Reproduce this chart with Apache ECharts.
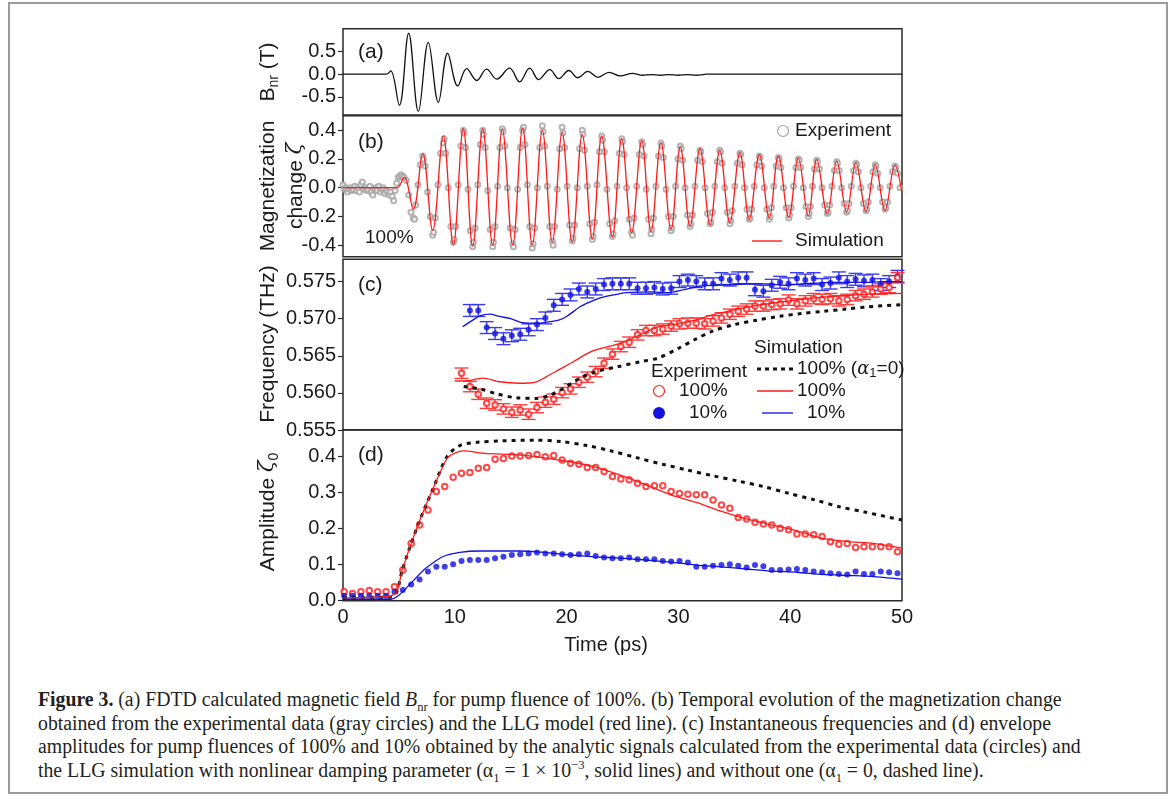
<!DOCTYPE html>
<html><head><meta charset="utf-8">
<script src="https://cdn.jsdelivr.net/npm/echarts@6/dist/echarts.min.js"></script>
<style>
html,body{margin:0;padding:0;background:#fff;}
#frame{position:absolute;left:8px;top:2px;width:1156px;height:788px;border:2px solid #9a9a9a;}
#chart{position:absolute;left:0;top:0;width:1171px;height:660px;}
#cap{position:absolute;left:38px;top:688px;font-family:"Liberation Serif",serif;font-size:20.5px;color:#231f20;}
#cap div{white-space:nowrap;height:23.5px;line-height:23.5px;}
#cap span.ln{display:inline-block;transform-origin:0 50%;}
sub,sup{font-size:13px;line-height:0;}
</style></head>
<body>
<div id="frame"></div>
<div id="chart"></div>
<div id="cap">
<div><span class="ln" data-end="1106"><b>Figure 3.</b> (a) FDTD calculated magnetic field <i>B</i><sub>nr</sub> for pump fluence of 100%. (b) Temporal evolution of the magnetization change</span></div>
<div><span class="ln" data-end="1046">obtained from the experimental data (gray circles) and the LLG model (red line). (c) Instantaneous frequencies and (d) envelope</span></div>
<div><span class="ln" data-end="1124">amplitudes for pump fluences of 100% and 10% obtained by the analytic signals calculated from the experimental data (circles) and</span></div>
<div><span class="ln" data-end="908">the LLG simulation with nonlinear damping parameter (α<sub>1</sub> = 1 × 10<sup>−3</sup>, solid lines) and without one (α<sub>1</sub> = 0, dashed line).</span></div>
</div>
<script>
// ---------- (a) B_nr waveform ----------
const bnrTime = [0, 3.9, 4.27, 5.04, 5.87, 6.74, 7.63, 8.53, 9.36, 10.26, 11.06, 11.96, 12.85, 13.75, 14.9, 15.8, 16.7, 17.5, 18.5, 19.3, 20.2, 21.0, 21.9, 22.8, 23.8, 24.8, 25.9, 26.8, 27.6, 28.4, 29.2, 30.0, 30.8, 31.6, 32.2, 32.5, 50];
const bnrValue = [0, 0, 0.07, -0.69, 0.90, -0.82, 0.70, -0.62, 0.46, -0.26, 0.12, -0.14, 0.11, -0.11, 0.13, -0.17, 0.13, -0.12, 0.10, -0.10, 0.08, -0.08, 0.06, -0.07, 0.04, -0.04, 0.015, -0.025, -0.01, -0.025, -0.01, -0.025, -0.01, -0.025, -0.01, 0, 0];

// ---------- (b) magnetization change ----------
const magSimTime = [0, 4.8, 5.46, 6.29, 7.13, 8.02, 8.97, 9.87, 10.76, 11.6, 12.5, 13.39, 14.25, 15.18, 16.07, 16.93, 17.83, 18.72, 19.6, 20.5, 21.4, 22.3, 23.14, 24.09, 24.93, 25.82, 26.72, 27.55, 28.44, 29.34, 30.17, 31.04, 31.93, 32.83, 33.7, 34.6, 35.5, 36.34, 37.24, 38.13, 38.94, 39.87, 40.73, 41.62, 42.37, 43.32, 44.16, 45.05, 45.88, 46.78, 47.61, 48.48, 49.37, 50];
const magSimValue = [0, 0, 0.074, -0.15, 0.237, -0.297, 0.36, -0.397, 0.41, -0.406, 0.41, -0.40, 0.406, -0.397, 0.415, -0.397, 0.399, -0.378, 0.383, -0.378, 0.369, -0.355, 0.36, -0.343, 0.341, -0.313, 0.329, -0.304, 0.313, -0.29, 0.283, -0.267, 0.271, -0.257, 0.26, -0.243, 0.243, -0.22, 0.23, -0.21, 0.22, -0.204, 0.206, -0.197, 0.195, -0.181, 0.183, -0.169, 0.174, -0.165, 0.16, -0.158, 0.155, -0.04];
const magExp = [
[0.0,0.02],[0.13,-0.01],[0.26,0.0],[0.4,-0.03],[0.53,-0.01],[0.66,0.0],[0.8,-0.02],[0.93,-0.01],[1.06,0.01],[1.2,-0.02],[1.33,0.0],[1.46,-0.03],[1.6,0.02],[1.73,0.04],[1.86,-0.01],[2.0,0.0],[2.13,-0.02],[2.26,-0.01],[2.4,0.01],[2.53,-0.03],[2.66,-0.05],[2.8,-0.01],[2.93,0.0],[3.06,-0.02],[3.2,0.01],[3.33,-0.03],[3.46,-0.01],[3.6,0.0],[3.73,-0.04],[3.86,-0.02],[4.0,-0.03],[4.13,-0.05],[4.26,-0.03],[4.4,-0.06],[4.53,-0.09],
[4.66,-0.02],[4.8,0.03],[4.93,0.07],[5.06,0.08],[5.2,0.09],[5.33,0.08],[5.46,0.07],[5.67,0.05],[5.88,-0.05],[6.08,-0.17],
[6.29,-0.21],[6.4,-0.22],[6.5,-0.12],[6.71,0.02],[6.92,0.16],[7.13,0.22],[7.2,0.2],[7.35,0.15],[7.57,-0.03],[7.8,-0.2],
[8.02,-0.33],[8.1,-0.31],[8.26,-0.21],[8.5,0.02],[8.73,0.24],[8.97,0.31],[9.05,0.34],[9.2,0.24],[9.42,0.0],[9.65,-0.27],
[9.87,-0.38],[9.95,-0.36],[10.09,-0.27],[10.31,0.02],[10.54,0.29],[10.76,0.40],[10.83,0.38],[10.97,0.28],[11.18,-0.01],[11.39,-0.3],
[11.6,-0.41],[11.66,-0.38],[11.82,-0.28],[12.05,0.02],[12.28,0.3],[12.5,0.40],[12.56,0.37],[12.72,0.28],[12.95,-0.02],[13.17,-0.29],
[13.39,-0.41],[13.45,-0.38],[13.6,-0.27],[13.82,0.01],[14.03,0.28],[14.25,0.41],[14.32,0.39],[14.48,0.29],[14.71,0.0],[14.95,-0.28],
[15.18,-0.39],[15.25,-0.41],[15.4,-0.29],[15.62,-0.01],[15.85,0.28],[16.07,0.40],[16.14,0.42],[16.28,0.3],[16.5,0.02],[16.71,-0.27],
[16.93,-0.42],[17.0,-0.39],[17.15,-0.28],[17.38,0.0],[17.6,0.28],[17.83,0.43],[17.9,0.39],[18.05,0.29],[18.27,0.01],[18.5,-0.27],
[18.72,-0.37],[18.8,-0.4],[18.94,-0.27],[19.16,-0.01],[19.38,0.27],[19.6,0.42],[19.67,0.38],[19.82,0.28],[20.05,0.01],[20.27,-0.26],
[20.5,-0.37],[20.57,-0.35],[20.72,-0.26],[20.95,0.0],[21.17,0.27],[21.4,0.40],[21.47,0.37],[21.62,0.26],[21.85,0.01],[22.07,-0.25],
[22.3,-0.36],[22.37,-0.34],[22.51,-0.24],[22.72,0.02],[22.93,0.25],[23.14,0.36],[23.21,0.33],[23.38,0.25],[23.61,-0.01],[23.85,-0.25],
[24.09,-0.34],[24.16,-0.32],[24.3,-0.23],[24.51,0.01],[24.72,0.24],[24.93,0.34],[25.0,0.32],[25.15,0.23],[25.37,0.0],[25.6,-0.22],
[25.82,-0.31],[25.89,-0.33],[26.04,-0.21],[26.27,0.01],[26.5,0.23],[26.72,0.32],[26.79,0.3],[26.93,0.22],[27.13,-0.01],[27.34,-0.22],
[27.55,-0.32],[27.62,-0.29],[27.77,-0.21],[27.99,0.01],[28.22,0.22],[28.44,0.31],[28.51,0.29],[28.66,0.21],[28.89,-0.01],[29.11,-0.2],
[29.34,-0.3],[29.41,-0.28],[29.55,-0.2],[29.75,0.01],[29.96,0.2],[30.17,0.29],[30.24,0.27],[30.39,0.19],[30.6,0.0],[30.82,-0.19],
[31.04,-0.27],[31.11,-0.25],[31.26,-0.19],[31.48,0.01],[31.71,0.19],[31.93,0.26],[32.0,0.25],[32.15,0.18],[32.38,0.0],[32.6,-0.18],
[32.83,-0.25],[32.9,-0.24],[33.05,-0.17],[33.26,0.01],[33.48,0.18],[33.7,0.26],[33.77,0.25],[33.92,0.17],[34.15,0.0],[34.37,-0.17],
[34.6,-0.25],[34.67,-0.23],[34.82,-0.16],[35.05,0.01],[35.27,0.17],[35.5,0.24],[35.57,0.23],[35.71,0.16],[35.92,0.0],[36.13,-0.15],
[36.34,-0.22],[36.41,-0.21],[36.56,-0.15],[36.79,0.01],[37.01,0.16],[37.24,0.22],[37.31,0.21],[37.46,0.15],[37.68,0.0],[37.91,-0.15],
[38.13,-0.22],[38.2,-0.2],[38.33,-0.14],[38.53,0.01],[38.74,0.15],[38.94,0.21],[39.01,0.2],[39.17,0.14],[39.4,0.0],[39.64,-0.14],
[39.87,-0.21],[39.94,-0.19],[40.08,-0.14],[40.3,0.01],[40.51,0.14],[40.73,0.2],[40.8,0.19],[40.95,0.14],[41.17,0.0],[41.4,-0.13],
[41.62,-0.2],[41.69,-0.18],[41.81,-0.13],[42.0,0.01],[42.18,0.13],[42.37,0.19],[42.44,0.18],[42.61,0.13],[42.85,0.0],[43.08,-0.12],
[43.32,-0.18],[43.39,-0.17],[43.53,-0.12],[43.74,0.01],[43.95,0.12],[44.16,0.18],[44.23,0.17],[44.38,0.12],[44.6,0.0],[44.83,-0.11],
[45.05,-0.17],[45.12,-0.16],[45.26,-0.11],[45.47,0.01],[45.67,0.12],[45.88,0.17],[45.95,0.16],[46.1,0.11],[46.33,0.0],[46.55,-0.11],
[46.78,-0.16],[46.85,-0.15],[46.99,-0.1],[47.2,0.01],[47.4,0.11],[47.61,0.16],[47.68,0.15],[47.83,0.1],[48.05,0.0],[48.26,-0.1],
[48.48,-0.15],[48.55,-0.14],[48.7,-0.1],[48.92,0.01],[49.15,0.11],[49.37,0.15],[49.44,0.14],[49.6,0.1],[49.82,0.0]
];

// ---------- shared experimental time grid (c, d) ----------
const expTime = [0.1, 0.85, 1.6, 2.35, 3.1, 3.85, 4.6, 5.35, 6.1, 6.85, 7.6, 8.35, 9.1, 9.85, 10.6, 11.35, 12.1, 12.85, 13.6, 14.35, 15.1, 15.85, 16.6, 17.35, 18.1, 18.85, 19.6, 20.35, 21.1, 21.85, 22.6, 23.35, 24.1, 24.85, 25.6, 26.35, 27.1, 27.85, 28.6, 29.35, 30.1, 30.85, 31.6, 32.35, 33.1, 33.85, 34.6, 35.35, 36.1, 36.85, 37.6, 38.35, 39.1, 39.85, 40.6, 41.35, 42.1, 42.85, 43.6, 44.35, 45.1, 45.85, 46.6, 47.35, 48.1, 48.85, 49.6];

// ---------- (c) frequency ----------
const freq100Exp = [0.56265, 0.56085, 0.55982, 0.55861, 0.55838, 0.55784, 0.5574, 0.5577, 0.55713, 0.55802, 0.55875, 0.55915, 0.56004, 0.56054, 0.56144, 0.56212, 0.56287, 0.564, 0.56522, 0.56624, 0.56683, 0.56782, 0.5684, 0.5684, 0.5686, 0.5690, 0.5693, 0.5694, 0.5694, 0.5693, 0.5697, 0.5701, 0.5706, 0.5710, 0.5713, 0.5717, 0.5717, 0.5719, 0.5720, 0.5725, 0.5720, 0.5724, 0.5727, 0.5726, 0.5727, 0.5724, 0.5726, 0.5731, 0.5733, 0.5736, 0.5740, 0.5742, 0.5755];
const freq10Exp = [0.5711, 0.5711, 0.5688, 0.5680, 0.5673, 0.5677, 0.5679, 0.5685, 0.5692, 0.5701, 0.5718, 0.5726, 0.5732, 0.5740, 0.5736, 0.5740, 0.5746, 0.5747, 0.5747, 0.5747, 0.5741, 0.5741, 0.5742, 0.5740, 0.5741, 0.5750, 0.5752, 0.5750, 0.5747, 0.5747, 0.5754, 0.5752, 0.5755, 0.5755, 0.5739, 0.5737, 0.5745, 0.5749, 0.5747, 0.5754, 0.5752, 0.5754, 0.5746, 0.5748, 0.5755, 0.5750, 0.5753, 0.5751, 0.5752, 0.5746, 0.5750, 0.5757];
const freq100Err = 0.0007;
const freq10Err = 0.0008;
const freqSim10Time = [10.7, 11.5, 12.3, 13.15, 14.0, 15.0, 15.9, 16.7, 17.6, 18.5, 19.3, 20.0, 21.2, 22.0, 23.0, 24.2, 25.4, 27.7, 29.0, 30.5, 32.0, 33.5, 35.0, 36.5, 38.0, 39.5, 41.0, 42.5, 44.0, 45.5, 47.0, 48.5, 50];
const freqSim10 = [0.5689, 0.5697, 0.5704, 0.5706, 0.5703, 0.5700, 0.5695, 0.5694, 0.5694, 0.5696, 0.5698, 0.5703, 0.5716, 0.5722, 0.5728, 0.5732, 0.5735, 0.5736, 0.5735, 0.5739, 0.5744, 0.5745, 0.5746, 0.5747, 0.5747, 0.5745, 0.5747, 0.5748, 0.5749, 0.5749, 0.5749, 0.5750, 0.5750];
const freqSim100Time = [10.0, 11.4, 12.55, 14.0, 15.8, 17.3, 18.2, 19.4, 20.6, 22.1, 23.6, 25.1, 27.2, 28.2, 30.0, 31.5, 33.0, 35.0, 37.0, 39.0, 41.0, 43.0, 45.0, 47.0, 50.0];
const freqSim100 = [0.5616, 0.5617, 0.5620, 0.5615, 0.5613, 0.5615, 0.5622, 0.5632, 0.5642, 0.5655, 0.5662, 0.5668, 0.5683, 0.5689, 0.5693, 0.5698, 0.5705, 0.5712, 0.5718, 0.5722, 0.5726, 0.5729, 0.5731, 0.5733, 0.5734];
const freqSimA0Time = [10.8, 12.25, 13.7, 15.5, 17.3, 18.5, 19.7, 21.2, 22.7, 24.5, 26.6, 28.2, 30.0, 31.5, 33.0, 35.0, 37.0, 39.0, 41.0, 43.0, 45.0, 47.0, 50.0];
const freqSimA0 = [0.56085, 0.56053, 0.5599, 0.55934, 0.55926, 0.5597, 0.5606, 0.5620, 0.5629, 0.5635, 0.5642, 0.5647, 0.5660, 0.5672, 0.5683, 0.5692, 0.5698, 0.5703, 0.5707, 0.5710, 0.5713, 0.5716, 0.5719];

// ---------- (d) amplitude ----------
const amp100Exp = [0.025, 0.020, 0.025, 0.028, 0.025, 0.025, 0.039, 0.085, 0.159, 0.210, 0.252, 0.303, 0.317, 0.343, 0.354, 0.356, 0.368, 0.370, 0.393, 0.395, 0.402, 0.402, 0.403, 0.406, 0.400, 0.403, 0.391, 0.382, 0.379, 0.370, 0.370, 0.359, 0.345, 0.338, 0.336, 0.326, 0.317, 0.319, 0.319, 0.303, 0.298, 0.296, 0.294, 0.294, 0.280, 0.266, 0.257, 0.231, 0.227, 0.218, 0.213, 0.210, 0.201, 0.197, 0.185, 0.185, 0.183, 0.178, 0.164, 0.157, 0.159, 0.148, 0.150, 0.150, 0.150, 0.150, 0.136];
const amp10Exp = [0.014, 0.014, 0.014, 0.014, 0.014, 0.014, 0.025, 0.030, 0.045, 0.059, 0.081, 0.094, 0.094, 0.101, 0.110, 0.113, 0.113, 0.113, 0.118, 0.122, 0.127, 0.129, 0.131, 0.134, 0.131, 0.131, 0.129, 0.127, 0.129, 0.131, 0.124, 0.120, 0.118, 0.118, 0.120, 0.115, 0.115, 0.115, 0.110, 0.109, 0.110, 0.106, 0.094, 0.094, 0.097, 0.099, 0.101, 0.097, 0.092, 0.099, 0.096, 0.085, 0.085, 0.087, 0.088, 0.085, 0.081, 0.079, 0.076, 0.074, 0.073, 0.081, 0.074, 0.074, 0.081, 0.079, 0.076];
const ampSim100Time = [0, 4.0, 4.8, 5.3, 6.7, 8.2, 9.3, 10.0, 10.8, 12.7, 15.7, 18, 20.3, 22.5, 24.8, 27.1, 29.3, 31.6, 33.8, 36.1, 38.4, 40.6, 42.9, 45.2, 47.4, 50];
const ampSim100 = [0.008, 0.011, 0.023, 0.085, 0.21, 0.322, 0.395, 0.410, 0.416, 0.409, 0.405, 0.397, 0.386, 0.372, 0.349, 0.322, 0.294, 0.273, 0.249, 0.227, 0.210, 0.194, 0.173, 0.164, 0.159, 0.146];
const ampSim10Time = [0, 4.3, 5.0, 5.9, 7.4, 8.9, 10.45, 12.3, 15.7, 18, 20.3, 22.5, 24.8, 27.1, 29.3, 31.6, 33.8, 36.1, 38.4, 40.6, 42.9, 45.2, 47.4, 50];
const ampSim10 = [0.004, 0.004, 0.015, 0.043, 0.090, 0.122, 0.134, 0.138, 0.138, 0.134, 0.127, 0.122, 0.118, 0.113, 0.107, 0.099, 0.094, 0.088, 0.082, 0.079, 0.073, 0.070, 0.067, 0.060];
const ampSimA0Time = [0, 4.3, 4.8, 5.3, 6.7, 8.2, 9.3, 10.45, 12, 14.2, 17.2, 19.5, 21.8, 24, 26.3, 28.6, 30.8, 33.1, 35.4, 37.6, 39.9, 42.2, 44.4, 46.7, 50];
const ampSimA0 = [0.008, 0.01, 0.023, 0.085, 0.21, 0.322, 0.40, 0.431, 0.440, 0.444, 0.446, 0.442, 0.431, 0.416, 0.397, 0.379, 0.363, 0.347, 0.332, 0.317, 0.298, 0.280, 0.261, 0.246, 0.224];

// ---------- axis ticks ----------
const ticksA = [-0.5, 0, 0.5];
const ticksB = [-0.4, -0.2, 0, 0.2, 0.4];
const ticksC = [0.555, 0.56, 0.565, 0.57, 0.575];
const ticksD = [0, 0.1, 0.2, 0.3, 0.4];

// ---------- build ----------
const zip = (t, v) => t.map((x, i) => [x, v[i]]);
const t100 = expTime.slice(expTime.length - freq100Exp.length);
const t10 = expTime.slice(expTime.length - freq10Exp.length);
const FONT = '"Liberation Sans", Arial, sans-serif';
const TXT = '#1a1a1a';
const RED = '#ff1a1a', BLUE = '#1010e0', GRAY = '#a3a3a3';

const chart = echarts.init(document.getElementById('chart'), null, {renderer: 'canvas'});

const grids = [
  {left: 343, width: 559, top: 28.7, height: 86.3},
  {left: 343, width: 559, top: 115.8, height: 140.9},
  {left: 343, width: 559, top: 259.3, height: 170.7},
  {left: 343, width: 559, top: 429.7, height: 171}
].map(g => Object.assign(g, {show: true, borderColor: '#2a2a2a', borderWidth: 1.5, backgroundColor: 'transparent'}));

const yRanges = [[-0.9, 1.0, ticksA, 1], [-0.48, 0.5, ticksB, 1], [0.555, 0.578, ticksC, 3], [0, 0.475, ticksD, 1]];
const xAxes = grids.map((g, i) => ({
  type: 'value', gridIndex: i, min: 0, max: 50, interval: 10,
  axisLine: {show: false}, splitLine: {show: false},
  axisTick: {show: false},
  axisLabel: {show: i === 3, color: TXT, fontFamily: FONT, fontSize: 20, margin: 7}
}));
const yAxes = yRanges.map((r, i) => ({
  type: 'value', gridIndex: i, min: r[0], max: r[1],
  axisLine: {show: false}, splitLine: {show: false},
  axisTick: {show: true, inside: false, length: 5, customValues: r[2], lineStyle: {color: '#2a2a2a', width: 1.2}},
  axisLabel: {customValues: r[2], color: TXT, fontFamily: FONT, fontSize: 20, margin: 7,
    formatter: v => v.toFixed(r[3])}
}));

function errSeries(times, vals, err, color, gi) {
  return {
    type: 'custom', xAxisIndex: gi, yAxisIndex: gi, silent: true,
    data: times.map((t, i) => [t, vals[i] - err, vals[i] + err]),
    renderItem: (params, api) => {
      const p1 = api.coord([api.value(0), api.value(2)]);
      const p2 = api.coord([api.value(0), api.value(1)]);
      const w = 7;
      const st = {stroke: color, lineWidth: 1.4};
      return {type: 'group', children: [
        {type: 'line', shape: {x1: p1[0], y1: p1[1], x2: p2[0], y2: p2[1]}, style: st},
        {type: 'line', shape: {x1: p1[0] - w, y1: p1[1], x2: p1[0] + w, y2: p1[1]}, style: st},
        {type: 'line', shape: {x1: p2[0] - w, y1: p2[1], x2: p2[0] + w, y2: p2[1]}, style: st}
      ]};
    }
  };
}

const lineS = (data, gi, color, width, extra) => Object.assign({
  type: 'line', xAxisIndex: gi, yAxisIndex: gi, data, showSymbol: false, symbol: 'none',
  lineStyle: {color, width}, silent: true
}, extra || {});
const openPts = (data, gi, color, size, bw) => ({type: 'scatter', xAxisIndex: gi, yAxisIndex: gi, data,
  symbol: 'emptyCircle', symbolSize: size, itemStyle: {color, borderColor: color, borderWidth: bw || 1.1}, silent: true});
const dotPts = (data, gi, color, size) => ({type: 'scatter', xAxisIndex: gi, yAxisIndex: gi, data,
  symbol: 'circle', symbolSize: size, itemStyle: {color}, silent: true});

const series = [
  lineS(zip(bnrTime, bnrValue), 0, '#111', 1.3, {smooth: 0.38}),
  openPts(magExp, 1, GRAY, 5, 0.9),
  lineS(zip(magSimTime, magSimValue), 1, RED, 1.3, {smooth: 0.38}),
  // (c)
  errSeries(t10, freq10Exp, freq10Err, '#3a3af0', 2),
  dotPts(zip(t10, freq10Exp), 2, BLUE, 6),
  errSeries(t100, freq100Exp, freq100Err, '#ff3a3a', 2),
  openPts(zip(t100, freq100Exp), 2, RED, 5.5),
  lineS(zip(freqSim10Time, freqSim10), 2, BLUE, 1.3, {smooth: 0.3}),
  lineS(zip(freqSim100Time, freqSim100), 2, RED, 1.3, {smooth: 0.3}),
  lineS(zip(freqSimA0Time, freqSimA0), 2, '#111', 3, {smooth: 0.3, lineStyle: {color: '#111', width: 3, type: [4, 5]}}),
  // (d)
  lineS(zip(ampSimA0Time, ampSimA0), 3, '#111', 3, {smooth: 0.3, lineStyle: {color: '#111', width: 3, type: [4, 5]}}),
  lineS(zip(ampSim100Time, ampSim100), 3, RED, 1.3, {smooth: 0.2}),
  lineS(zip(ampSim10Time, ampSim10), 3, BLUE, 1.3, {smooth: 0.2}),
  openPts(zip(expTime, amp100Exp), 3, RED, 5.5),
  dotPts(zip(expTime, amp10Exp), 3, BLUE, 6)
];

const T = (x, y, text, size) => ({type: 'text', x, y, silent: true,
  style: {text, fill: TXT, font: (size || 19) + 'px ' + FONT, align: 'left', verticalAlign: 'middle'}});
const R = (x, y, rich, text) => ({type: 'text', x, y, rotation: Math.PI / 2, silent: true,
  style: {text, rich, fill: TXT, align: 'center', verticalAlign: 'middle', fontFamily: FONT, fontSize: 21}});

const base = {fontFamily: FONT, fontSize: 21, fill: TXT, lineHeight: 26};
const greek = {fontFamily: '"DejaVu Serif", serif', fontStyle: 'italic', fontSize: 21, fill: TXT, lineHeight: 26};
const sub = {fontFamily: FONT, fontSize: 14, fill: TXT, lineHeight: 14, padding: [12, 0, 0, 0], verticalAlign: 'bottom'};
const graphic = [
  // panel tags
  T(358, 52, '(a)', 21), T(358, 142, '(b)', 21), T(358, 285, '(c)', 21), T(358, 455, '(d)', 21),
  // y titles
  R(268, 72, {b: base, s: sub}, '{b|B}{s|nr}{b| (T)}'),
  R(268, 186, {b: base}, '{b|Magnetization}'),
  R(296, 186, {b: base, g: greek}, '{b|change }{g|ζ}'),
  R(268, 344, {b: base}, '{b|Frequency (THz)}'),
  R(268, 512, {b: base, g: greek, s: sub}, '{b|Amplitude }{g|ζ}{s|0}'),
  // x title
  {type: 'text', x: 606, y: 645, silent: true, style: {text: 'Time (ps)', font: '20px ' + FONT, fill: TXT, align: 'center', verticalAlign: 'middle'}},
  // (b) legend
  {type: 'circle', shape: {cx: 783, cy: 131, r: 5.5}, silent: true, style: {fill: '#fff', stroke: GRAY, lineWidth: 1.2}},
  T(795, 131, 'Experiment'),
  {type: 'line', shape: {x1: 752, y1: 241, x2: 782, y2: 241}, silent: true, style: {stroke: RED, lineWidth: 1.4}},
  T(795, 241, 'Simulation'),
  T(365, 238, '100%'),
  // (c) legend
  T(754, 348, 'Simulation'),
  T(651, 372, 'Experiment'),
  {type: 'circle', shape: {cx: 659, cy: 391, r: 5.5}, silent: true, style: {fill: '#fff', stroke: RED, lineWidth: 1.2}},
  T(679, 391, '100%'),
  {type: 'circle', shape: {cx: 659, cy: 413, r: 6}, silent: true, style: {fill: BLUE}},
  T(689, 413, '10%'),
  {type: 'line', shape: {x1: 757, y1: 369, x2: 793, y2: 369}, silent: true, style: {stroke: '#111', lineWidth: 3, lineDash: [4, 4]}},
  {type: 'text', x: 797, y: 369, silent: true, style: {
    text: '{n|100% (}{g|α}{s|1}{n|=0)}', verticalAlign: 'middle', align: 'left',
    rich: {n: {font: '19px ' + FONT, fill: TXT, lineHeight: 22},
      g: {fontFamily: '"DejaVu Serif", serif', fontStyle: 'italic', fontSize: 18, fill: TXT, lineHeight: 22},
      s: {font: '13px ' + FONT, fill: TXT, lineHeight: 13, padding: [9, 0, 0, 0], verticalAlign: 'bottom'}}}},
  {type: 'line', shape: {x1: 757, y1: 391, x2: 793, y2: 391}, silent: true, style: {stroke: RED, lineWidth: 1.3}},
  T(797, 391, '100%'),
  {type: 'line', shape: {x1: 762, y1: 413, x2: 793, y2: 413}, silent: true, style: {stroke: BLUE, lineWidth: 1.3}},
  T(807, 413, '10%')
];

chart.setOption({animation: false, grid: grids, xAxis: xAxes, yAxis: yAxes, series, graphic});

// one common horizontal scale for the caption, averaged over the line ends seen in the figure
const spans = Array.from(document.querySelectorAll('#cap span.ln'));
const ratios = spans.map(s => (+s.dataset.end - 38) / s.getBoundingClientRect().width);
const k = ratios.reduce((a, b) => a + b, 0) / ratios.length;
spans.forEach(s => { s.style.transform = 'scaleX(' + k.toFixed(4) + ')'; });
</script>
</body></html>
